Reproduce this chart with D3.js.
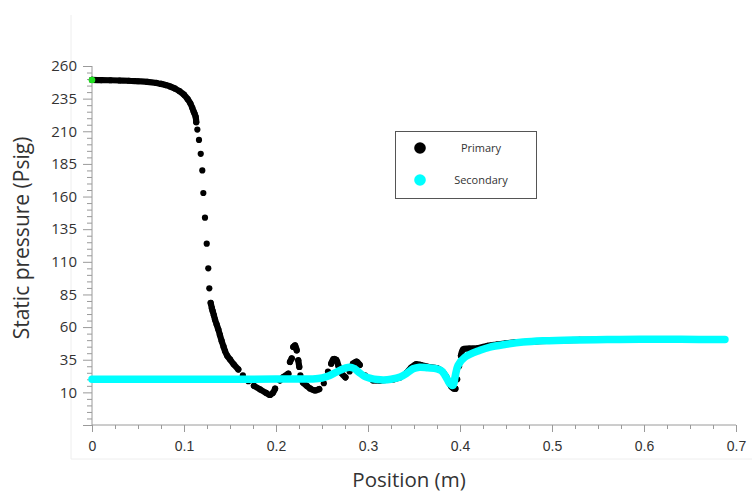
<!DOCTYPE html>
<html>
<head>
<meta charset="utf-8">
<script src="https://cdn.jsdelivr.net/npm/d3@7"></script>
<style>
  html, body { margin: 0; padding: 0; background: #fff; }
  svg { display: block; }
</style>
</head>
<body>
<svg id="chart" width="752" height="492"></svg>
<script>
// ---------------- DATA ----------------
const xTickValues = [0, 0.1, 0.2, 0.3, 0.4, 0.5, 0.6, 0.7];
const xTickLabels = ["0", "0.1", "0.2", "0.3", "0.4", "0.5", "0.6", "0.7"];
const yTickValues = [10, 35, 60, 85, 110, 135, 160, 185, 210, 235, 260];
const yTickLabels = ["10", "35", "60", "85", "110", "135", "160", "185", "210", "235", "260"];
const seriesNames = ["Primary", "Secondary"];

const primaryPos = [
  0, 0.01, 0.02, 0.03, 0.04, 0.05, 0.06, 0.07, 0.075, 0.08, 0.085, 0.09, 0.095, 0.1,
  0.104, 0.107, 0.109, 0.1105, 0.1115, 0.1127, 0.1133, 0.1145, 0.1163, 0.1182, 0.1199,
  0.121, 0.1228, 0.1247, 0.1264, 0.1275, 0.129, 0.1303, 0.1312, 0.1325, 0.1337, 0.1355,
  0.1373, 0.139, 0.141, 0.143, 0.1446, 0.147, 0.15, 0.154, 0.159, 0.164, 0.17, 0.176,
  0.1826, 0.189, 0.1935, 0.1965, 0.199, 0.2043, 0.2079, 0.2134, 0.2152, 0.2171, 0.2188,
  0.2207, 0.2225, 0.2242, 0.2253, 0.2265, 0.2293, 0.2334, 0.237, 0.2424, 0.247, 0.252,
  0.2565, 0.26, 0.2625, 0.2655, 0.268, 0.2705, 0.2755, 0.28, 0.2837, 0.2875, 0.291,
  0.2967, 0.3054, 0.313, 0.32, 0.328, 0.335, 0.342, 0.347, 0.352, 0.357, 0.365, 0.375,
  0.381, 0.385, 0.388, 0.3905, 0.393, 0.395, 0.397, 0.399, 0.401, 0.4036, 0.41, 0.42,
  0.43, 0.44, 0.45, 0.46, 0.48, 0.5, 0.53, 0.56, 0.6, 0.64, 0.68
];
const primaryPressure = [
  249.3, 249.2, 249.1, 248.9, 248.7, 248.3, 247.9, 247.0, 246.3, 245.4, 244.3, 242.8, 240.8, 238.0,
  234.6, 231.2, 228.0, 225.0, 223.5, 221.0, 217.0, 211.3, 203.4, 192.7, 180.0,
  162.7, 143.8, 123.9, 105.0, 89.7, 78.5, 74.5, 72.2, 69.0, 65.8, 62.0,
  58.2, 54.0, 49.2, 45.0, 41.6, 38.0, 35.2, 31.5, 27.6, 23.0, 18.6, 15.0,
  12.3, 9.7, 8.0, 9.5, 12.8, 19.2, 21.7, 24.3, 33.3, 36.0, 44.8,
  46.1, 42.2, 34.6, 29.5, 23.0, 17.5, 15.0, 13.0, 11.5, 12.5, 17.0,
  26.0, 32.0, 35.5, 35.0, 30.0, 25.3, 21.5, 26.0, 32.0, 33.5, 31.0,
  23.0, 19.2, 19.0, 19.5, 20.0, 21.5, 25.0, 29.0, 31.5, 31.0, 29.5, 28.5,
  26.0, 22.0, 17.5, 14.5, 13.0, 12.8, 20.0, 30.0, 38.0, 43.0, 43.5, 44.0,
  45.6, 46.6, 47.5, 48.3, 49.0, 49.7, 50.2, 50.4, 50.6, 50.6, 50.5
];

const secondaryPos = [
  0, 0.05, 0.1, 0.15, 0.2, 0.24, 0.25, 0.257, 0.263, 0.27, 0.276, 0.28, 0.285, 0.29,
  0.297, 0.304, 0.31, 0.317, 0.325, 0.335, 0.342, 0.349, 0.356, 0.365, 0.375, 0.38,
  0.3837, 0.3865, 0.389, 0.3924, 0.3946, 0.3978, 0.4054, 0.4217, 0.4326, 0.45, 0.4685,
  0.49, 0.5228, 0.56, 0.5957, 0.64, 0.688
];
const secondaryPressure = [
  20.0, 20.0, 20.0, 20.0, 20.2, 20.3, 21.0, 22.5, 24.5, 27.0, 28.8, 29.3, 28.3, 25.5,
  22.0, 20.5, 19.8, 19.5, 20.0, 21.7, 24.5, 28.1, 29.3, 28.8, 28.0, 26.5,
  23.0, 19.5, 16.6, 15.3, 21.7, 30.6, 37.0, 42.2, 44.7, 46.8, 48.5,
  49.5, 50.2, 50.4, 50.6, 50.6, 50.5
];

const startMarkerPos = [0];
const startMarkerPressure = [249.3];

// ---------------- CHART ----------------
const svg = d3.select("#chart");
const x = d3.scaleLinear().domain([0, 0.7]).range([92, 736]);
const y = d3.scaleLinear().domain([-15, 260]).range([425, 66]);

const axisColor = "#9a9a9a";
const textColor = "#333";

// faint chart-area frame
svg.append("line").attr("x1", 71).attr("x2", 71).attr("y1", 15).attr("y2", 459)
  .attr("stroke", "#eeeeee").attr("stroke-width", 1);
svg.append("line").attr("x1", 71).attr("x2", 752).attr("y1", 459).attr("y2", 459)
  .attr("stroke", "#eeeeee").attr("stroke-width", 1);

// minor ticks
const yMinor = d3.range(-15, 260.001, 5).filter(v => (v + 15) % 25 !== 0);
const xMinor = d3.range(0, 0.7001, 0.025).filter(v => Math.abs(v * 10 - Math.round(v * 10)) > 1e-6);

const yMinorAxis = d3.axisLeft(y).tickValues(yMinor).tickSize(5).tickFormat("");
const xMinorAxis = d3.axisBottom(x).tickValues(xMinor).tickSize(4).tickFormat("");

const gyMinor = svg.append("g").attr("transform", "translate(92,0)").call(yMinorAxis);
const gxMinor = svg.append("g").attr("transform", "translate(0,425)").call(xMinorAxis);
[gyMinor, gxMinor].forEach(g => {
  g.select(".domain").remove();
  g.selectAll("line").attr("stroke", axisColor);
});

// major axes
const yAxis = d3.axisLeft(y)
  .tickValues([-15].concat(yTickValues))
  .tickSize(9).tickPadding(6)
  .tickFormat(v => { const i = yTickValues.indexOf(v); return i >= 0 ? yTickLabels[i] : ""; });
const xAxis = d3.axisBottom(x)
  .tickValues(xTickValues)
  .tickSize(7).tickPadding(9)
  .tickFormat((v, i) => xTickLabels[i]);

const gy = svg.append("g").attr("transform", "translate(92,0)").call(yAxis);
gy.select(".domain").attr("stroke", axisColor).attr("d", `M0,${y(260)}V${y(-15)}`);
gy.selectAll("line").attr("stroke", axisColor);
gy.selectAll("text").attr("fill", textColor)
  .style("font-family", "'Open Sans', sans-serif").style("font-size", "15px");

const gx = svg.append("g").attr("transform", "translate(0,425)").call(xAxis);
gx.select(".domain").attr("stroke", axisColor).attr("d", `M${x(0)},0H${x(0.7)}`);
gx.selectAll("line").attr("stroke", axisColor);
gx.selectAll("text").attr("fill", textColor)
  .style("font-family", "'Liberation Sans', Arial, sans-serif").style("font-size", "14px");

// axis titles
svg.append("text")
  .attr("x", 409).attr("y", 487)
  .attr("text-anchor", "middle")
  .attr("fill", textColor)
  .style("font-family", "'Open Sans', sans-serif").style("font-size", "20.5px")
  .text("Position (m)");

svg.append("text")
  .attr("transform", "translate(29,238) rotate(-90)")
  .attr("text-anchor", "middle")
  .attr("fill", textColor)
  .style("font-family", "'Open Sans', sans-serif").style("font-size", "21px")
  .text("Static pressure (Psig)");

// ---------------- SERIES ----------------
const primary = primaryPos.map((p, i) => ({ x: p, y: primaryPressure[i] }));
const secondary = secondaryPos.map((p, i) => ({ x: p, y: secondaryPressure[i] }));

// primary: dense markers merge into a thick trace where they are close together
const segments = [];
let cur = [primary[0]];
for (let i = 1; i < primary.length; i++) {
  const a = primary[i - 1], b = primary[i];
  const dx = x(b.x) - x(a.x), dy = y(b.y) - y(a.y);
  const d = Math.hypot(dx, dy);
  if (d < 7 || Math.abs(dy) < 4) { cur.push(b); } else { segments.push(cur); cur = [b]; }
}
segments.push(cur);

const lineGen = d3.line().x(d => x(d.x)).y(d => y(d.y)).curve(d3.curveCatmullRom.alpha(0.5));

svg.append("g").selectAll("path")
  .data(segments.filter(s => s.length > 1))
  .join("path")
  .attr("d", lineGen)
  .attr("fill", "none")
  .attr("stroke", "#000")
  .attr("stroke-width", 6.2)
  .attr("stroke-linecap", "round")
  .attr("stroke-linejoin", "round");

svg.append("g").selectAll("circle")
  .data(primary)
  .join("circle")
  .attr("cx", d => x(d.x))
  .attr("cy", d => y(d.y))
  .attr("r", 3.1)
  .attr("fill", "#000");

// secondary: thick cyan trace of dense markers
svg.append("path")
  .datum(secondary)
  .attr("d", lineGen)
  .attr("fill", "none")
  .attr("stroke", "#00ffff")
  .attr("stroke-width", 7.5)
  .attr("stroke-linecap", "round")
  .attr("stroke-linejoin", "round");

// start marker (green)
svg.append("g").selectAll("circle")
  .data(startMarkerPos.map((p, i) => ({ x: p, y: startMarkerPressure[i] })))
  .join("circle")
  .attr("cx", d => x(d.x))
  .attr("cy", d => y(d.y))
  .attr("r", 3.3)
  .attr("fill", "#22e022");

// ---------------- LEGEND ----------------
const legend = svg.append("g").attr("transform", "translate(395,131)");
legend.append("rect")
  .attr("x", 0.5).attr("y", 0.5).attr("width", 141).attr("height", 67)
  .attr("fill", "#fff").attr("stroke", "#555").attr("stroke-width", 1);
const legendColors = ["#000", "#00ffff"];
seriesNames.forEach((name, i) => {
  const ly = 17 + i * 32;
  legend.append("circle").attr("cx", 25).attr("cy", ly).attr("r", 5.8).attr("fill", legendColors[i]);
  legend.append("text")
    .attr("x", 86).attr("y", ly + 4)
    .attr("text-anchor", "middle")
    .attr("fill", textColor)
    .style("font-family", "'Open Sans', sans-serif").style("font-size", "11px")
    .text(name);
});
</script>
</body>
</html>
